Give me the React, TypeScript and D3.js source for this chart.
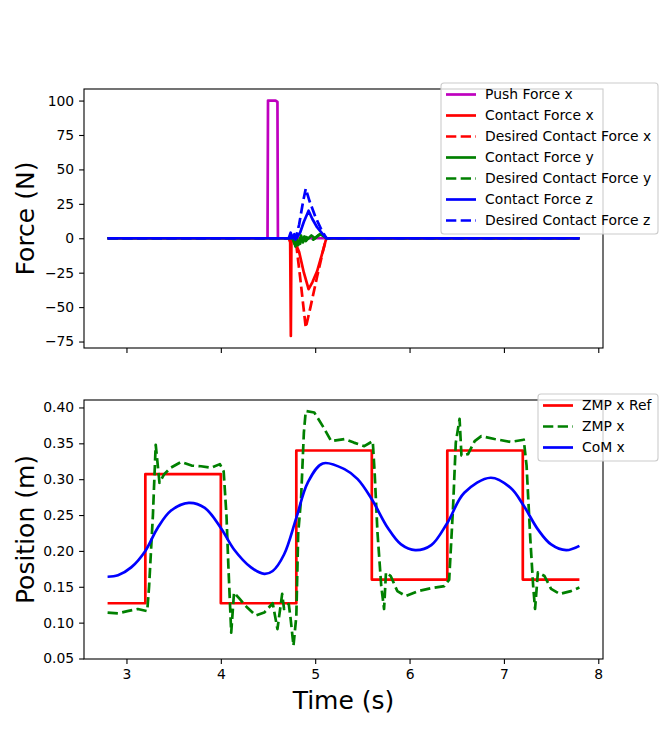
import React, { useEffect, useRef } from "react";
import * as d3 from "d3";

type Pt = [number, number];

// ---- top panel: forces (N) vs time (s) ----
const pushForceX: Pt[] = [
  [2.8, 0], [4.495, 0], [4.5, 100], [4.58, 100], [4.6, 99], [4.605, 0], [7.8, 0],
];
const contactForceX: Pt[] = [
  [2.8, 0], [4.72, 0], [4.735, -3], [4.742, -71], [4.748, -3], [4.76, 0], [4.78, -3],
  [4.8, -5], [4.83, -10], [4.88, -25], [4.93, -37], [4.97, -32], [5.02, -24],
  [5.07, -12], [5.11, -2], [5.12, 0], [7.8, 0],
];
const desiredContactForceX: Pt[] = [
  [2.8, 0], [4.77, 0], [4.8, -5], [4.84, -28], [4.9, -65], [4.95, -50], [5.02, -28],
  [5.08, -10], [5.11, -2], [5.12, 0], [7.8, 0],
];
const contactForceY: Pt[] = [
  [2.8, 0], [4.76, 0], [4.78, -4], [4.8, 1], [4.82, -5], [4.85, 2], [4.87, -3],
  [4.9, 1], [4.93, 0], [4.96, 2], [5.0, 0], [5.05, 3], [5.1, 1], [5.12, 0], [7.8, 0],
];
const desiredContactForceY: Pt[] = [
  [2.8, 0], [4.77, 0], [4.79, -6], [4.82, 0], [4.84, -4], [4.87, 3], [4.9, -2],
  [4.94, 1], [4.98, -1], [5.03, 2], [5.08, 3], [5.12, 0], [7.8, 0],
];
const contactForceZ: Pt[] = [
  [2.8, 0], [4.72, 0], [4.74, 4], [4.76, 0], [4.78, 3], [4.8, 0], [4.84, 4],
  [4.88, 12], [4.93, 20], [4.97, 14], [5.02, 8], [5.08, 3], [5.12, 0], [7.8, 0],
];
const desiredContactForceZ: Pt[] = [
  [2.8, 0], [4.74, 0], [4.76, 3], [4.79, -1], [4.83, 10], [4.87, 26], [4.9, 36],
  [4.94, 27], [5.0, 16], [5.06, 7], [5.11, 1], [5.12, 0], [7.8, 0],
];

// ---- bottom panel: positions (m) vs time (s) ----
const zmpRef: Pt[] = [
  [2.8, 0.127], [3.2, 0.127], [3.2, 0.307], [4.0, 0.307], [4.0, 0.127], [4.8, 0.127],
  [4.8, 0.34], [5.6, 0.34], [5.6, 0.16], [6.4, 0.16], [6.4, 0.34], [7.2, 0.34],
  [7.2, 0.16], [7.8, 0.16],
];
const zmp: Pt[] = [
  [2.8, 0.114], [2.91, 0.113], [3.01, 0.116], [3.12, 0.119], [3.22, 0.116], [3.24, 0.151],
  [3.28, 0.249], [3.31, 0.348], [3.35, 0.295], [3.4, 0.307], [3.47, 0.316], [3.58, 0.324],
  [3.69, 0.319], [3.79, 0.318], [3.9, 0.316], [3.99, 0.321], [4.03, 0.311], [4.06, 0.249],
  [4.08, 0.179], [4.11, 0.086], [4.14, 0.142], [4.2, 0.133], [4.28, 0.121], [4.37, 0.11],
  [4.46, 0.114], [4.55, 0.127], [4.6, 0.091], [4.65, 0.14], [4.67, 0.119], [4.72, 0.126],
  [4.74, 0.105], [4.77, 0.068], [4.8, 0.109], [4.82, 0.225], [4.85, 0.272], [4.88, 0.365],
  [4.9, 0.395], [4.99, 0.393], [5.08, 0.374], [5.17, 0.353], [5.31, 0.356], [5.41, 0.351],
  [5.52, 0.346], [5.61, 0.353], [5.63, 0.309], [5.66, 0.226], [5.7, 0.151], [5.73, 0.119],
  [5.75, 0.17], [5.8, 0.165], [5.87, 0.144], [5.96, 0.137], [6.09, 0.144], [6.23, 0.148],
  [6.37, 0.151], [6.42, 0.16], [6.46, 0.258], [6.49, 0.351], [6.53, 0.384], [6.55, 0.333],
  [6.62, 0.335], [6.69, 0.353], [6.76, 0.36], [6.9, 0.356], [7.07, 0.352], [7.21, 0.355],
  [7.24, 0.319], [7.28, 0.216], [7.31, 0.151], [7.33, 0.119], [7.36, 0.17], [7.43, 0.165],
  [7.5, 0.147], [7.59, 0.14], [7.71, 0.144], [7.8, 0.149],
];
const comX: Pt[] = [
  [2.8, 0.164], [2.91, 0.166], [3.05, 0.177], [3.2, 0.2], [3.33, 0.232], [3.47, 0.256],
  [3.66, 0.267], [3.83, 0.26], [4.0, 0.232], [4.14, 0.202], [4.32, 0.177], [4.46, 0.168],
  [4.55, 0.172], [4.67, 0.195], [4.8, 0.246], [4.92, 0.295], [5.08, 0.322], [5.31, 0.314],
  [5.45, 0.3], [5.6, 0.272], [5.77, 0.232], [5.91, 0.209], [6.06, 0.201], [6.23, 0.208],
  [6.4, 0.239], [6.58, 0.281], [6.86, 0.302], [7.07, 0.288], [7.21, 0.263], [7.36, 0.23],
  [7.5, 0.209], [7.66, 0.201], [7.8, 0.207],
];

const forceTicks = [-75, -50, -25, 0, 25, 50, 75, 100];
const positionTicks = [0.05, 0.1, 0.15, 0.2, 0.25, 0.3, 0.35, 0.4];
const timeTicks = [3, 4, 5, 6, 7, 8];

interface Series {
  name: string;
  data: Pt[];
  color: string;
  dashed: boolean;
  smooth?: boolean;
}

const forceSeries: Series[] = [
  { name: "Push Force x", data: pushForceX, color: "#bf00bf", dashed: false },
  { name: "Contact Force x", data: contactForceX, color: "#ff0000", dashed: false },
  { name: "Desired Contact Force x", data: desiredContactForceX, color: "#ff0000", dashed: true },
  { name: "Contact Force y", data: contactForceY, color: "#008000", dashed: false },
  { name: "Desired Contact Force y", data: desiredContactForceY, color: "#008000", dashed: true },
  { name: "Contact Force z", data: contactForceZ, color: "#0000ff", dashed: false },
  { name: "Desired Contact Force z", data: desiredContactForceZ, color: "#0000ff", dashed: true },
];

const positionSeries: Series[] = [
  { name: "ZMP x Ref", data: zmpRef, color: "#ff0000", dashed: false },
  { name: "ZMP x", data: zmp, color: "#008000", dashed: true },
  { name: "CoM x", data: comX, color: "#0000ff", dashed: false, smooth: true },
];

const FONT = "DejaVu Sans, sans-serif";
const LW = 2.7;
const DASH = "10.3,4.4";

const minus = (d: number, fmt: (n: number) => string) =>
  d < 0 ? "\u2212" + fmt(Math.abs(d)) : fmt(d);

const App: React.FC = () => {
  const svgRef = useRef<SVGSVGElement | null>(null);

  useEffect(() => {
    if (!svgRef.current) return;
    const svg = d3.select(svgRef.current);
    svg.selectAll("*").remove();

    const left = 84;
    const right = 603;
    const x = d3.scaleLinear().domain([2.55, 8.05]).range([left, right]);

    const drawPanel = (
      id: string,
      top: number,
      bottom: number,
      y: d3.ScaleLinear<number, number>,
      yTicks: number[],
      yFmt: (n: number) => string,
      series: Series[],
      yLabel: string,
      xLabels: boolean
    ) => {
      const g = svg.append("g");

      svg.append("defs").append("clipPath").attr("id", id)
        .append("rect")
        .attr("x", left).attr("y", top)
        .attr("width", right - left).attr("height", bottom - top);

      const lines = g.append("g").attr("clip-path", `url(#${id})`);
      series.forEach((s) => {
        const gen = d3.line<Pt>()
          .x((d) => x(d[0]))
          .y((d) => y(d[1]))
          .curve(s.smooth ? d3.curveCatmullRom.alpha(0.5) : d3.curveLinear);
        lines.append("path")
          .attr("d", gen(s.data) as string)
          .attr("fill", "none")
          .attr("stroke", s.color)
          .attr("stroke-width", LW)
          .attr("stroke-linejoin", "round")
          .attr("stroke-dasharray", s.dashed ? DASH : null);
      });

      // frame
      g.append("rect")
        .attr("x", left).attr("y", top)
        .attr("width", right - left).attr("height", bottom - top)
        .attr("fill", "none").attr("stroke", "black").attr("stroke-width", 1.1);

      // y axis
      const ya = g.append("g")
        .attr("transform", `translate(${left},0)`)
        .call(d3.axisLeft(y).tickValues(yTicks).tickSize(4.9).tickPadding(4.9)
          .tickFormat((d) => minus(d as number, yFmt)));
      ya.select(".domain").remove();
      ya.selectAll("line").attr("stroke-width", 1.1);
      ya.selectAll("text").style("font-family", FONT).style("font-size", "13.9px").attr("fill", "#000");

      // x axis
      const xa = g.append("g")
        .attr("transform", `translate(0,${bottom})`)
        .call(d3.axisBottom(x).tickValues(timeTicks).tickSize(4.9).tickPadding(4.9)
          .tickFormat((d) => (xLabels ? String(d) : "")));
      xa.select(".domain").remove();
      xa.selectAll("line").attr("stroke-width", 1.1);
      xa.selectAll("text").style("font-family", FONT).style("font-size", "13.9px").attr("fill", "#000");

      g.append("text")
        .attr("transform", `translate(${34},${(top + bottom) / 2}) rotate(-90)`)
        .attr("text-anchor", "middle")
        .style("font-family", FONT)
        .style("font-size", "25px")
        .text(yLabel);
    };

    const yForce = d3.scaleLinear().domain([-79.7, 108.4]).range([348, 89]);
    drawPanel("clipTop", 89, 348, yForce, forceTicks, (n) => String(n), forceSeries, "Force (N)", false);

    const yPos = d3.scaleLinear().domain([0.0493, 0.4104]).range([659, 400]);
    drawPanel("clipBot", 400, 659, yPos, positionTicks, d3.format(".2f"), positionSeries, "Position (m)", true);

    svg.append("text")
      .attr("x", (left + right) / 2)
      .attr("y", 709)
      .attr("text-anchor", "middle")
      .style("font-family", FONT)
      .style("font-size", "25px")
      .text("Time (s)");

    const drawLegend = (series: Series[], bx: number, by: number, bw: number, bh: number, firstRow: number) => {
      const lg = svg.append("g");
      lg.append("rect")
        .attr("x", bx).attr("y", by).attr("width", bw).attr("height", bh)
        .attr("rx", 3)
        .attr("fill", "white").attr("fill-opacity", 0.8)
        .attr("stroke", "#cccccc").attr("stroke-width", 1.1);
      series.forEach((s, i) => {
        const cy = firstRow + i * 21;
        lg.append("line")
          .attr("x1", bx + 5).attr("x2", bx + 35)
          .attr("y1", cy).attr("y2", cy)
          .attr("stroke", s.color).attr("stroke-width", LW)
          .attr("stroke-dasharray", s.dashed ? DASH : null);
        lg.append("text")
          .attr("x", bx + 44).attr("y", cy)
          .attr("dy", "0.35em")
          .style("font-family", FONT)
          .style("font-size", "13.9px")
          .text(s.name);
      });
    };

    drawLegend(forceSeries, 441, 83, 217, 151, 94.5);
    drawLegend(positionSeries, 538, 394, 120, 67, 405.5);
  }, []);

  return (
    <svg
      ref={svgRef}
      width={670}
      height={741}
      style={{ position: "absolute", left: 0, top: 0, background: "white" }}
    />
  );
};

export default App;
